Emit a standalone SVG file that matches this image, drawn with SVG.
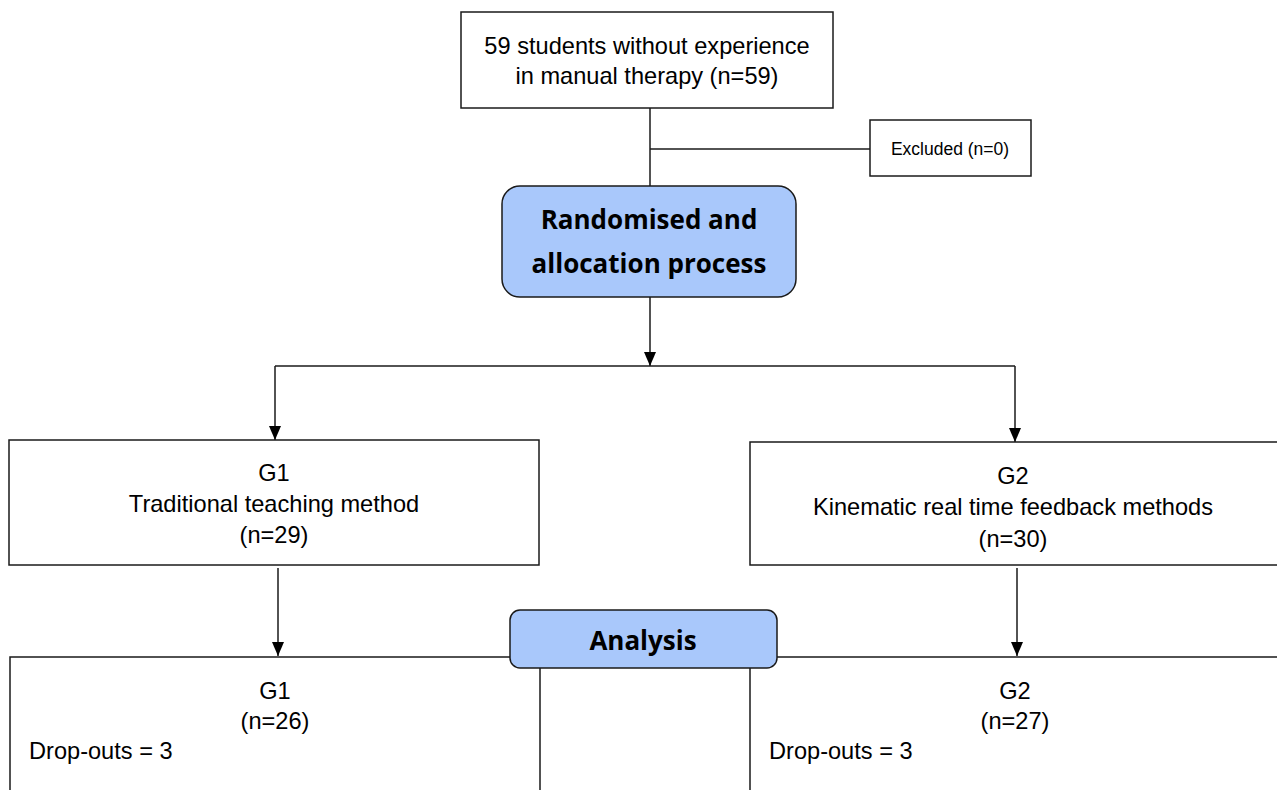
<svg xmlns="http://www.w3.org/2000/svg" width="1277" height="790" viewBox="0 0 1277 790">
<style>
.box{fill:#fff;stroke:#1a1a1a;stroke-width:1.5}
.blue{fill:#a9c8fb;stroke:#1a1a1a;stroke-width:1.5}
.t{font-family:"Liberation Sans",Arial,sans-serif;font-size:23.6px;fill:#000;text-anchor:middle}
.s{font-family:"Liberation Sans",Arial,sans-serif;font-size:17.5px;fill:#000;text-anchor:middle}
.b{font-family:"Open Sans","Noto Sans",sans-serif;font-weight:bold;font-size:26px;fill:#000;text-anchor:middle}
.ln{fill:none;stroke:#1a1a1a;stroke-width:1.5}
</style>
<defs>
<marker id="ah" viewBox="0 0 14 12" refX="14" refY="6" markerWidth="14" markerHeight="12" markerUnits="userSpaceOnUse" orient="auto">
<path d="M0,0 L14,6 L0,12 Z" fill="#000"/>
</marker>
</defs>
<rect width="1277" height="790" fill="#fff"/>
<g id="connectors">
<line class="ln" x1="650" y1="108" x2="650" y2="186"/>
<line class="ln" x1="650" y1="149" x2="870" y2="149"/>
<line class="ln" x1="650" y1="297" x2="650" y2="366" marker-end="url(#ah)"/>
<line class="ln" x1="275" y1="366" x2="1015" y2="366"/>
<line class="ln" x1="275" y1="366" x2="275" y2="440" marker-end="url(#ah)"/>
<line class="ln" x1="1015" y1="366" x2="1015" y2="442" marker-end="url(#ah)"/>
<line class="ln" x1="278" y1="568" x2="278" y2="656" marker-end="url(#ah)"/>
<line class="ln" x1="1017" y1="568" x2="1017" y2="656" marker-end="url(#ah)"/>
</g>
<g id="start">
<rect class="box" x="461" y="12" width="372" height="96"/>
<text class="t" x="647" y="54">59 students without experience</text>
<text class="t" x="647" y="84">in manual therapy (n=59)</text>
</g>
<g id="excluded">
<rect class="box" x="870" y="120" width="161" height="56"/>
<text class="s" x="950" y="155">Excluded (n=0)</text>
</g>
<g id="randomised">
<rect class="blue" x="502" y="186" width="294" height="111" rx="18"/>
<text class="b" x="649" y="229">Randomised and</text>
<text class="b" x="649" y="273">allocation process</text>
</g>
<g id="g1">
<rect class="box" x="9" y="440" width="530" height="125"/>
<text class="t" x="274" y="481">G1</text>
<text class="t" x="274" y="512">Traditional teaching method</text>
<text class="t" x="274" y="543">(n=29)</text>
</g>
<g id="g2">
<rect class="box" x="750" y="442" width="540" height="123"/>
<text class="t" x="1013" y="484">G2</text>
<text class="t" x="1013" y="515">Kinematic real time feedback methods</text>
<text class="t" x="1013" y="547">(n=30)</text>
</g>
<g id="g1-analysis">
<path class="ln" d="M10,800 V657 H520 M540,668 V800"/>
<text class="t" x="275" y="699">G1</text>
<text class="t" x="275" y="729">(n=26)</text>
<text class="t" x="29" y="759" style="text-anchor:start">Drop-outs = 3</text>
</g>
<g id="g2-analysis">
<path class="ln" d="M770,657 H1290 M750,668 V800"/>
<text class="t" x="1015" y="699">G2</text>
<text class="t" x="1015" y="729">(n=27)</text>
<text class="t" x="769" y="759" style="text-anchor:start">Drop-outs = 3</text>
</g>
<g id="analysis">
<rect class="blue" x="510" y="610" width="267" height="58" rx="10"/>
<text class="b" x="643" y="650">Analysis</text>
</g>
</svg>
